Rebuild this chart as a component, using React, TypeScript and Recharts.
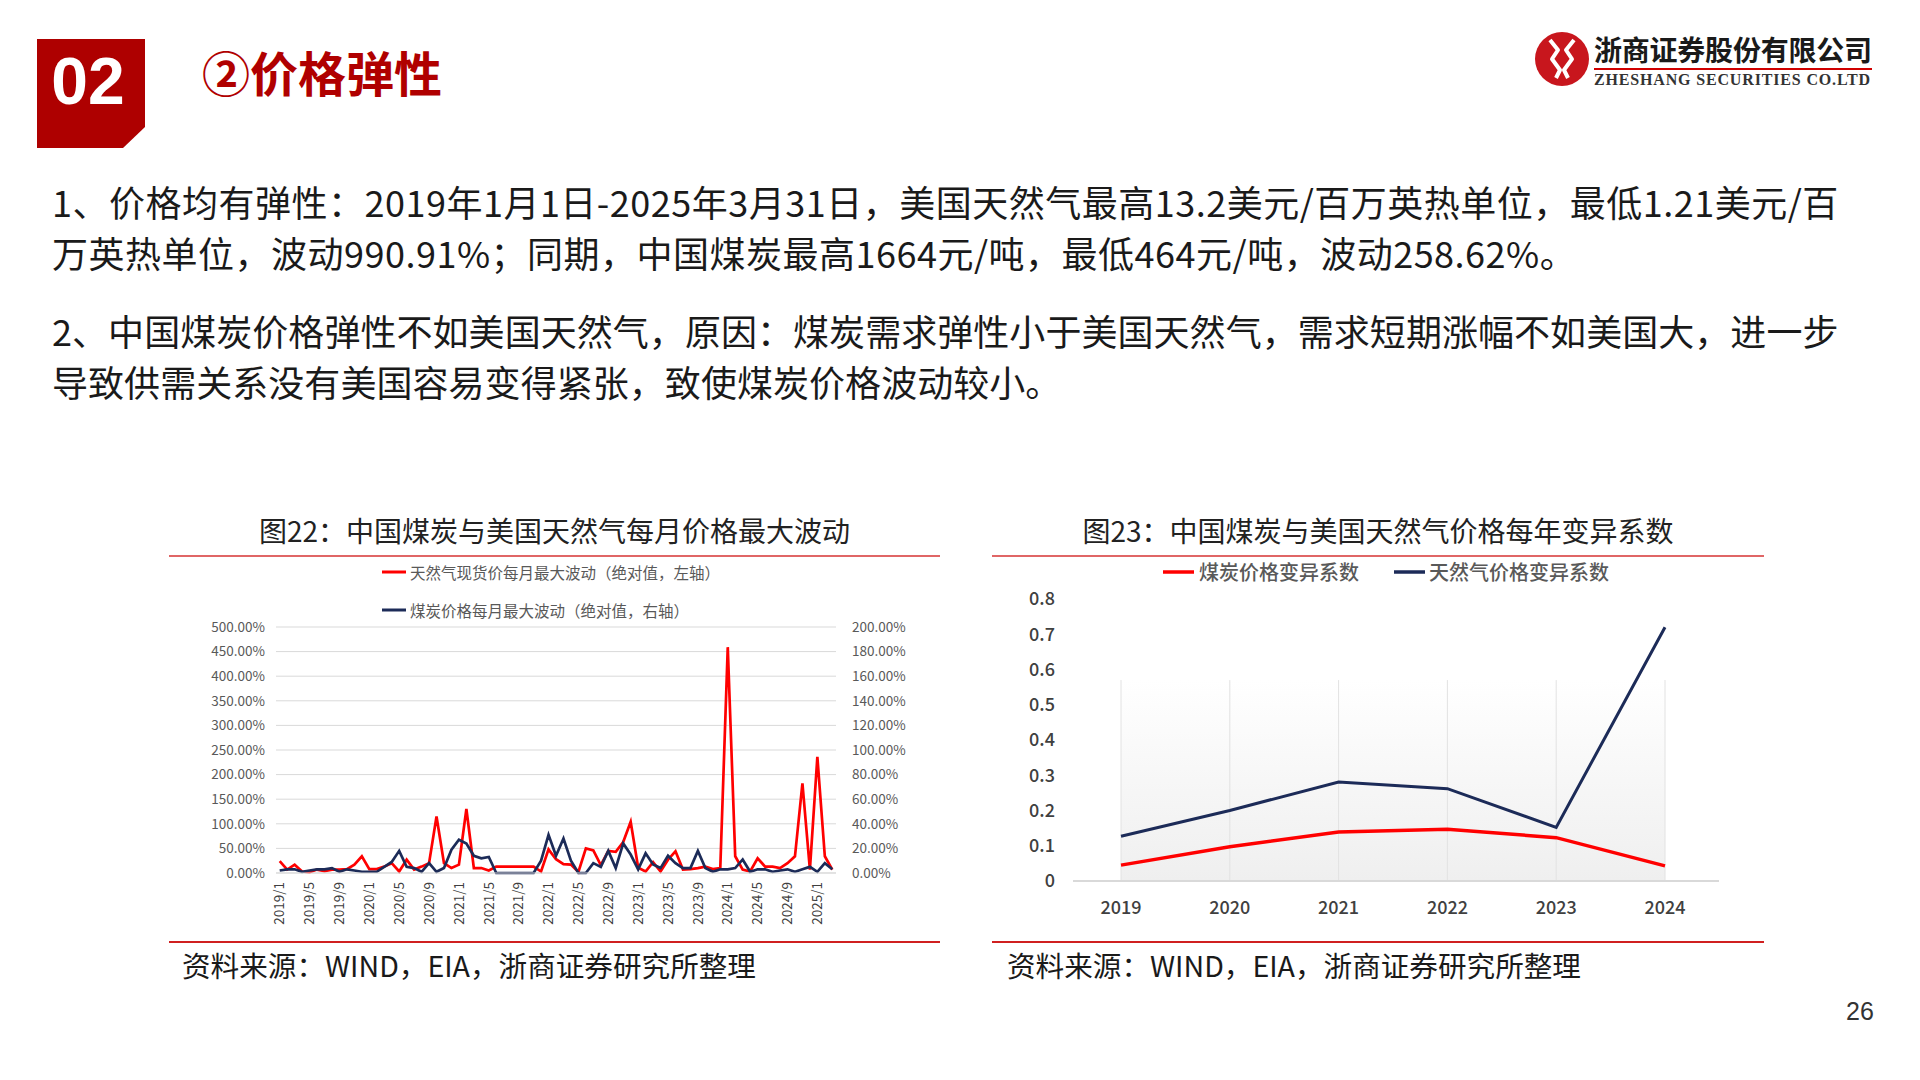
import React from 'react';
import { LineChart, Line, XAxis, YAxis, CartesianGrid, ReferenceArea, ReferenceLine } from 'recharts';

// 图22: monthly max swing, 2019/1 - 2025/3
const months = [
  '2019/1', '2019/2', '2019/3', '2019/4', '2019/5', '2019/6', '2019/7', '2019/8', '2019/9', '2019/10', '2019/11', '2019/12',
  '2020/1', '2020/2', '2020/3', '2020/4', '2020/5', '2020/6', '2020/7', '2020/8', '2020/9', '2020/10', '2020/11', '2020/12',
  '2021/1', '2021/2', '2021/3', '2021/4', '2021/5', '2021/6', '2021/7', '2021/8', '2021/9', '2021/10', '2021/11', '2021/12',
  '2022/1', '2022/2', '2022/3', '2022/4', '2022/5', '2022/6', '2022/7', '2022/8', '2022/9', '2022/10', '2022/11', '2022/12',
  '2023/1', '2023/2', '2023/3', '2023/4', '2023/5', '2023/6', '2023/7', '2023/8', '2023/9', '2023/10', '2023/11', '2023/12',
  '2024/1', '2024/2', '2024/3', '2024/4', '2024/5', '2024/6', '2024/7', '2024/8', '2024/9', '2024/10', '2024/11', '2024/12',
  '2025/1', '2025/2', '2025/3',
];
// 天然气 (%), left axis
const gasSwing = [
  24, 7, 17, 3, 2, 7, 4, 7, 7, 8, 17, 34,
  8, 8, 13, 20, 3, 27, 7, 13, 20, 115, 20, 10,
  17, 130, 10, 10, 5, 13, 13, 13, 13, 13, 13, 3,
  48, 28, 18, 17, 2, 50, 46, 16, 45, 43, 63, 104,
  11, 3, 22, 3, 27, 44, 7, 8, 10, 13, 8, 10,
  459, 34, 7, 3, 30, 13, 13, 10, 20, 34, 182, 7,
  236, 34, 7,
];
// 煤炭 (%), right axis
const coalSwing = [
  2, 3, 3, 1, 2, 3, 3, 4, 1, 3, 2, 1,
  1, 1, 5, 9, 18, 5, 4, 1, 8, 1, 4, 19,
  27, 24, 14, 12, 13, 0, 0, 0, 0, 0, 0, 10,
  31, 14, 28, 10, 0, 0, 8, 5, 18, 4, 24, 15,
  3, 16, 7, 4, 14, 8, 4, 4, 18, 4, 1, 3,
  3, 4, 11, 1, 3, 3, 1, 2, 3, 1, 3, 5,
  1, 8, 3,
];
const gasTicks = [0, 50, 100, 150, 200, 250, 300, 350, 400, 450, 500];
const coalTicks = [0, 20, 40, 60, 80, 100, 120, 140, 160, 180, 200];

// 图23: yearly coefficient of variation
const years = ['2019', '2020', '2021', '2022', '2023', '2024'];
const coalCv = [0.045, 0.097, 0.139, 0.147, 0.123, 0.043];
const gasCv = [0.127, 0.2, 0.281, 0.262, 0.152, 0.72];
const cvTicks = [0, 0.1, 0.2, 0.3, 0.4, 0.5, 0.6, 0.7, 0.8];

const monthlyData = months.map((m, i) => ({ month: m, gas: gasSwing[i], coal: coalSwing[i] }));
const yearlyData = years.map((y, i) => ({ year: y, coal: coalCv[i], gas: gasCv[i] }));

const CJK = '"Noto Sans CJK SC", "Noto Sans", sans-serif';
const RED = '#ff0000';
const NAVY = '#1c2b58';

const MonthTick = (props: any) => {
  const { x, y, payload } = props;
  return (
    <g transform={`translate(${x},${y})`}>
      <text transform="rotate(-90)" textAnchor="end" dy="0.35em" fontSize={13.5} fill="#404040" fontFamily={CJK}>
        {payload.value}
      </text>
    </g>
  );
};

const abs = (l: number, t: number): React.CSSProperties => ({ position: 'absolute', left: l, top: t });

const bodyStyle: React.CSSProperties = { fontSize: 36, lineHeight: '51px', color: '#1a1a1a', whiteSpace: 'nowrap' };

export default function App() {
  return (
    <div style={{ position: 'absolute', left: 0, top: 0, width: 1920, height: 1080, background: '#fff', fontFamily: CJK, overflow: 'hidden' }}>
      {/* header */}
      <svg style={abs(0, 0)} width={200} height={160}>
        <polygon points="37,39 145,39 145,127 123,148 37,148" fill="#ae0000" />
        <text x={88} y={104} textAnchor="middle" fill="#fff" fontSize={66} fontWeight="bold" fontFamily='"Liberation Sans", Arial, sans-serif'>02</text>
      </svg>
      <div style={{ ...abs(202, 42), fontSize: 48, fontWeight: 700, color: '#b00000', lineHeight: '58px' }}>②价格弹性</div>

      {/* logo */}
      <svg style={abs(1528, 24)} width={360} height={72}>
        <circle cx={34} cy={35} r={27} fill="#c8161d" />
        <path d="M22 16 L30 26 L24 35 L32 46 L28 54 M46 16 L38 26 L44 35 L36 46 L40 54" stroke="#fff" strokeWidth={4} fill="none" strokeLinejoin="round" />
        <text x={66} y={37} fontSize={28} fontWeight="bold" fill="#1a1a1a" fontFamily={CJK} textLength={278}>浙商证券股份有限公司</text>
        <line x1={66} x2={344} y1={45} y2={45} stroke="#d00000" strokeWidth={2} />
        <text x={66} y={61} fontSize={16} fontWeight="bold" fill="#333" fontFamily='"Liberation Serif", serif' textLength={276}>ZHESHANG SECURITIES CO.LTD</text>
      </svg>

      {/* body text */}
      <div style={{ ...abs(52, 176), ...bodyStyle, letterSpacing: 0.5 }}>
        <div>1、价格均有弹性：2019年1月1日-2025年3月31日，美国天然气最高13.2美元/百万英热单位，最低1.21美元/百</div>
        <div>万英热单位，波动990.91%；同期，中国煤炭最高1664元/吨，最低464元/吨，波动258.62%。</div>
      </div>
      <div style={{ ...abs(52, 305), ...bodyStyle, letterSpacing: 0.05 }}>
        <div>2、中国煤炭价格弹性不如美国天然气，原因：煤炭需求弹性小于美国天然气，需求短期涨幅不如美国大，进一步</div>
        <div>导致供需关系没有美国容易变得紧张，致使煤炭价格波动较小。</div>
      </div>

      {/* chart 22 */}
      <div style={{ ...abs(169, 510), width: 771, textAlign: 'center', fontSize: 28, lineHeight: '40px', color: '#222' }}>
        图22：中国煤炭与美国天然气每月价格最大波动
      </div>
      <div style={{ ...abs(169, 555), width: 771, height: 2, background: '#e06666' }} />
      <div style={abs(169, 560)}>
        <LineChart width={771} height={385} data={monthlyData} margin={{ top: 67, right: 0, bottom: 0, left: 0 }}>
          <CartesianGrid vertical={false} stroke="#d9d9d9" yAxisId="gas" />
          <XAxis dataKey="month" interval={3} height={72} padding={{ left: 3.7, right: 3.7 }} tick={<MonthTick />} tickLine={false} tickSize={6} tickMargin={3} axisLine={{ stroke: '#d9d9d9' }} />
          <YAxis yAxisId="gas" orientation="left" width={107} domain={[0, 500]} ticks={gasTicks} tickFormatter={(v: number) => `${v.toFixed(2)}%`}
            axisLine={false} tickLine={false} tickSize={6} tickMargin={5} tick={{ fontSize: 13.5, fill: '#595959', fontFamily: CJK }} />
          <YAxis yAxisId="coal" orientation="right" width={104} domain={[0, 200]} ticks={coalTicks} tickFormatter={(v: number) => `${v.toFixed(2)}%`}
            axisLine={false} tickLine={false} tickSize={6} tickMargin={10} tick={{ fontSize: 13.5, fill: '#595959', fontFamily: CJK, textAnchor: 'start' }} />
          <Line yAxisId="gas" type="linear" dataKey="gas" stroke={RED} strokeWidth={2.7} dot={false} isAnimationActive={false} />
          <Line yAxisId="coal" type="linear" dataKey="coal" stroke={NAVY} strokeWidth={2.7} dot={false} isAnimationActive={false} />
        </LineChart>
      </div>
      <svg style={abs(380, 562)} width={30} height={60}>
        <line x1={2} x2={26} y1={10} y2={10} stroke={RED} strokeWidth={3} />
        <line x1={2} x2={26} y1={48} y2={48} stroke={NAVY} strokeWidth={3} />
      </svg>
      <div style={{ ...abs(410, 561), fontSize: 15.5, lineHeight: '22px', color: '#595959' }}>天然气现货价每月最大波动（绝对值，左轴）</div>
      <div style={{ ...abs(410, 599), fontSize: 15.5, lineHeight: '22px', color: '#595959' }}>煤炭价格每月最大波动（绝对值，右轴）</div>
      <div style={{ ...abs(169, 941), width: 771, height: 2, background: '#d02020' }} />
      <div style={{ ...abs(182, 945), fontSize: 28.6, lineHeight: '40px', color: '#1a1a1a' }}>资料来源：WIND，EIA，浙商证券研究所整理</div>

      {/* chart 23 */}
      <div style={{ ...abs(992, 510), width: 772, textAlign: 'center', fontSize: 28, lineHeight: '40px', color: '#222' }}>
        图23：中国煤炭与美国天然气价格每年变异系数
      </div>
      <div style={{ ...abs(992, 555), width: 772, height: 2, background: '#e06666' }} />
      <div style={abs(992, 557)}>
        <LineChart width={772} height={385} data={yearlyData} margin={{ top: 42, right: 45, bottom: 0, left: 0 }}>
          <defs>
            <linearGradient id="plotBg" x1="0" y1="0" x2="0" y2="1">
              <stop offset="0%" stopColor="#ffffff" />
              <stop offset="100%" stopColor="#efefef" />
            </linearGradient>
          </defs>
          <ReferenceArea y1={0} y2={0.57} fill="url(#plotBg)" fillOpacity={1} ifOverflow="visible" />
          {years.map((y) => (
            <ReferenceLine key={y} segment={[{ x: y, y: 0 }, { x: y, y: 0.57 }]} stroke="#e2e2e2" strokeWidth={1} />
          ))}
          <XAxis dataKey="year" height={61} padding={{ left: 48, right: 54 }} tickLine={false} tickSize={6} tickMargin={14} axisLine={{ stroke: '#d9d9d9', strokeWidth: 2 }}
            tick={{ fontSize: 18, fill: '#404040', fontFamily: CJK, fontWeight: 500 }} />
          <YAxis width={81} domain={[0, 0.8]} ticks={cvTicks} axisLine={false} tickLine={false} tickSize={6} tickMargin={12}
            tick={{ fontSize: 18, fill: '#404040', fontFamily: CJK, fontWeight: 500 }} />
          <Line type="linear" dataKey="coal" stroke={RED} strokeWidth={3.5} dot={false} isAnimationActive={false} />
          <Line type="linear" dataKey="gas" stroke={NAVY} strokeWidth={3} dot={false} isAnimationActive={false} />
        </LineChart>
      </div>
      <svg style={abs(1160, 562)} width={270} height={20}>
        <line x1={3} x2={34} y1={10} y2={10} stroke={RED} strokeWidth={3.5} />
        <line x1={234} x2={265} y1={10} y2={10} stroke={NAVY} strokeWidth={3.5} />
      </svg>
      <div style={{ ...abs(1199, 558), fontSize: 20, lineHeight: '28px', color: '#595959', fontWeight: 500 }}>煤炭价格变异系数</div>
      <div style={{ ...abs(1429, 558), fontSize: 20, lineHeight: '28px', color: '#595959', fontWeight: 500 }}>天然气价格变异系数</div>
      <div style={{ ...abs(992, 941), width: 772, height: 2, background: '#d02020' }} />
      <div style={{ ...abs(1007, 945), fontSize: 28.6, lineHeight: '40px', color: '#1a1a1a' }}>资料来源：WIND，EIA，浙商证券研究所整理</div>

      <div style={{ ...abs(1846, 996), fontSize: 25, lineHeight: '30px', color: '#333', fontFamily: '"Liberation Sans", Arial, sans-serif' }}>26</div>
    </div>
  );
}
